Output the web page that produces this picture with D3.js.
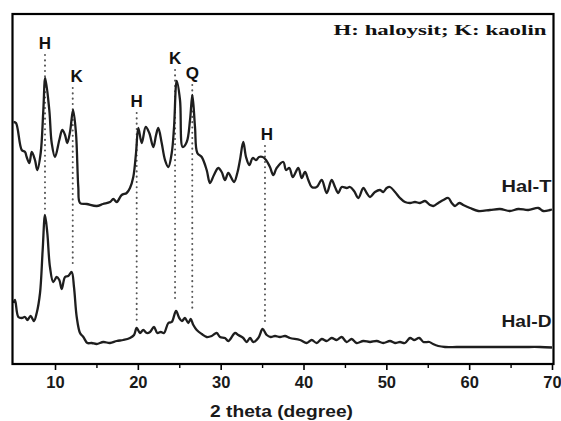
<!DOCTYPE html>
<html>
<head>
<meta charset="utf-8">
<script src="https://cdn.jsdelivr.net/npm/d3@7"></script>
<style>
  html, body { margin: 0; padding: 0; background: #fff; }
  svg { display: block; }
</style>
</head>
<body>
<svg id="chart" width="561" height="421"></svg>
<script>
// ---- DATA ----
const halT_theta = [5.0,5.29,5.98,6.38,6.58,6.90,7.19,7.58,7.86,8.27,8.59,8.82,9.31,9.60,10.0,10.52,10.88,11.21,11.48,11.81,12.18,12.53,12.81,13.02,13.83,15.03,15.79,16.64,17.04,17.45,18.05,18.65,19.05,19.45,19.78,20.06,20.47,20.95,21.38,21.87,22.2,22.47,22.88,23.28,23.68,24.09,24.37,24.69,25.09,25.41,25.90,26.30,26.58,26.9,27.18,27.71,28.31,28.71,29.19,29.71,30.12,30.52,30.92,31.61,32.01,32.33,32.73,33.06,33.46,33.87,34.27,34.63,35.07,35.47,35.95,36.35,36.76,37.56,37.89,38.29,38.70,39.37,39.78,40.18,40.58,40.99,41.59,42.20,42.80,43.40,43.80,44.20,44.61,45.21,45.61,46.10,46.62,47.22,47.63,48.03,48.63,49.24,49.63,50.04,50.44,51.05,51.65,52.25,52.86,53.46,54.06,54.67,55.27,55.67,56.27,56.88,57.48,57.89,58.29,58.81,59.29,60.10,61.10,62.51,63.72,64.92,65.93,67.14,68.35,68.95,69.76,70.0];
const halT_int = [242,241,214,212,207,201,212,204,194,211,254,286,254,221,207,224,234,229,221,232,254,231,177,161,160,158,160,162,165,162,169,171,176,187,211,236,221,237,231,217,229,236,221,204,197,211,237,283,264,217,222,244,269,237,211,207,194,181,189,196,192,184,191,182,191,204,222,207,199,206,204,207,207,204,197,189,196,202,194,196,187,196,186,192,184,177,177,184,171,184,177,171,177,176,177,173,166,176,171,167,172,174,172,176,177,172,166,162,161,162,161,163,159,158,161,164,166,161,158,161,159,156,153,154,155,153,155,154,156,153,154,154.5];

const halD_theta = [5.0,5.17,5.57,5.98,6.38,6.65,7.06,7.46,7.79,8.19,8.51,8.79,9.07,9.39,9.79,10.20,10.52,10.81,11.21,11.60,12.01,12.29,12.62,13.02,13.42,13.90,14.43,15.03,15.83,16.64,17.45,18.24,19.05,19.54,19.86,20.26,20.66,21.07,21.47,21.95,22.35,22.76,23.16,23.68,24.09,24.61,25.0,25.33,25.69,26.09,26.38,26.70,27.11,27.71,28.31,28.92,29.52,29.92,30.52,30.92,31.73,32.13,32.73,33.14,33.54,33.94,34.54,35.07,35.56,36.04,36.56,37.16,37.77,38.37,39.58,40.39,40.99,41.59,42.20,42.80,43.40,44.01,44.61,45.21,45.82,46.42,47.22,48.03,48.84,49.63,50.44,51.05,51.65,52.25,52.86,53.34,53.98,54.47,55.19,55.64,56.27,57.08,58.49,60.10,62.11,64.32,66.54,68.55,70.0];
const halD_int = [61,64,47,46,47,44,48,43,51,71,114,149,131,97,82,87,84,75,87,88,92,77,47,31,27,21,21,20,22,21,23,24,26,29,36,31,34,31,32,37,31,32,31,41,42,53,46,43,46,41,45,39,34,30,27,28,31,27,26,23,31,29,26,22,26,22,26,35,29,27,28,27,28,26,24,21,24,21,25,23,26,24,27,22,25,21,23,22,23,21,23,21,22,21,26,24,26,22,22,20,18,17,17,17,17,17,17,17,16.5];

const peakLabels = ["H","K","H","K","Q","H"];
const peakTheta  = [8.79,12.14,19.86,24.49,26.57,35.35];
const peakTop    = [309,276,251,294,279,218];
const peakBottom = [152,99,41,62,52,42];

const xTicks = [10,20,30,40,50,60,70];
const xMinorTicks = [15,25,35,45,55,65];
const seriesNames = ["Hal-T","Hal-D"];
const legendText = "H: haloysit; K: kaolin";
const xTitle = "2 theta (degree)";

// ---- CHART ----
const svg = d3.select("#chart");
const x = d3.scaleLinear().domain([5,70]).range([13.6,552]);
const y = d3.scaleLinear().domain([0,350]).range([364,14]);

const sans = "'Liberation Sans', Arial, sans-serif";
const serif = "'Liberation Serif', 'Times New Roman', serif";

svg.append("clipPath").attr("id","clip").append("rect")
  .attr("x",12).attr("y",14).attr("width",542).attr("height",350);

const g = svg.append("g").attr("clip-path","url(#clip)");
peakTheta.forEach((t,i) => {
  g.append("line")
    .attr("x1", x(t)).attr("x2", x(t))
    .attr("y1", y(peakTop[i])).attr("y2", y(peakBottom[i]))
    .attr("stroke","#555").attr("stroke-width",2)
    .attr("stroke-linecap","round")
    .attr("stroke-dasharray","0.1,5.2");
});

const line = d3.line().x(d => x(d[0])).y(d => y(d[1])).curve(d3.curveCatmullRom.alpha(0.5));
const dataT = halT_theta.map((t,i) => [t, halT_int[i]]);
const dataD = halD_theta.map((t,i) => [t, halD_int[i]]);
[dataT, dataD].forEach(d => {
  g.append("path").datum(d).attr("d", line)
    .attr("fill","none").attr("stroke","#1e1e1e").attr("stroke-width",2.3)
    .attr("stroke-linejoin","round");
});

peakTheta.forEach((t,i) => {
  const off = (i === 1) ? 4 : (i === 5 ? 2 : 0);
  svg.append("text")
    .attr("x", x(t) + off).attr("y", y(peakTop[i]) - 6.5)
    .attr("text-anchor","middle")
    .attr("font-family", sans).attr("font-weight","bold").attr("font-size",17)
    .attr("fill","#111")
    .text(peakLabels[i]);
});

svg.append("rect").attr("x",12.5).attr("y",14).attr("width",541).attr("height",350)
  .attr("fill","none").attr("stroke","#000").attr("stroke-width",2.2);

const axis = d3.axisBottom(x).tickValues(xTicks).tickSize(6).tickSizeOuter(0).tickPadding(6);
const ax = svg.append("g").attr("transform","translate(0,364)").call(axis);
ax.select(".domain").remove();
ax.selectAll(".tick line").attr("stroke","#000").attr("stroke-width",1.6);
ax.selectAll(".tick text")
  .attr("font-family", sans).attr("font-weight","bold").attr("font-size",16.5).attr("fill","#1a1a1a");
const minor = d3.axisBottom(x).tickValues(xMinorTicks).tickSize(4).tickFormat("");
const mx = svg.append("g").attr("transform","translate(0,364)").call(minor);
mx.select(".domain").remove();
mx.selectAll(".tick line").attr("stroke","#000").attr("stroke-width",1.4);

svg.append("text").attr("x",281.5).attr("y",417)
  .attr("text-anchor","middle")
  .attr("font-family", sans).attr("font-weight","bold").attr("font-size",16.5).attr("fill","#1a1a1a")
  .attr("textLength",143).attr("lengthAdjust","spacingAndGlyphs")
  .text(xTitle);

svg.append("text").attr("x",546.5).attr("y",35)
  .attr("text-anchor","end")
  .attr("font-family", serif).attr("font-weight","bold").attr("font-size",15.5).attr("fill","#111")
  .attr("textLength",213).attr("lengthAdjust","spacingAndGlyphs")
  .text(legendText);

[[seriesNames[0],192.3],[seriesNames[1],327.3]].forEach(([s,by]) => {
  svg.append("text").attr("x",551.5).attr("y",by)
    .attr("text-anchor","end")
    .attr("font-family", sans).attr("font-weight","bold").attr("font-size",17).attr("fill","#1a1a1a")
    .attr("textLength",50).attr("lengthAdjust","spacingAndGlyphs")
    .text(s);
});
</script>
</body>
</html>
